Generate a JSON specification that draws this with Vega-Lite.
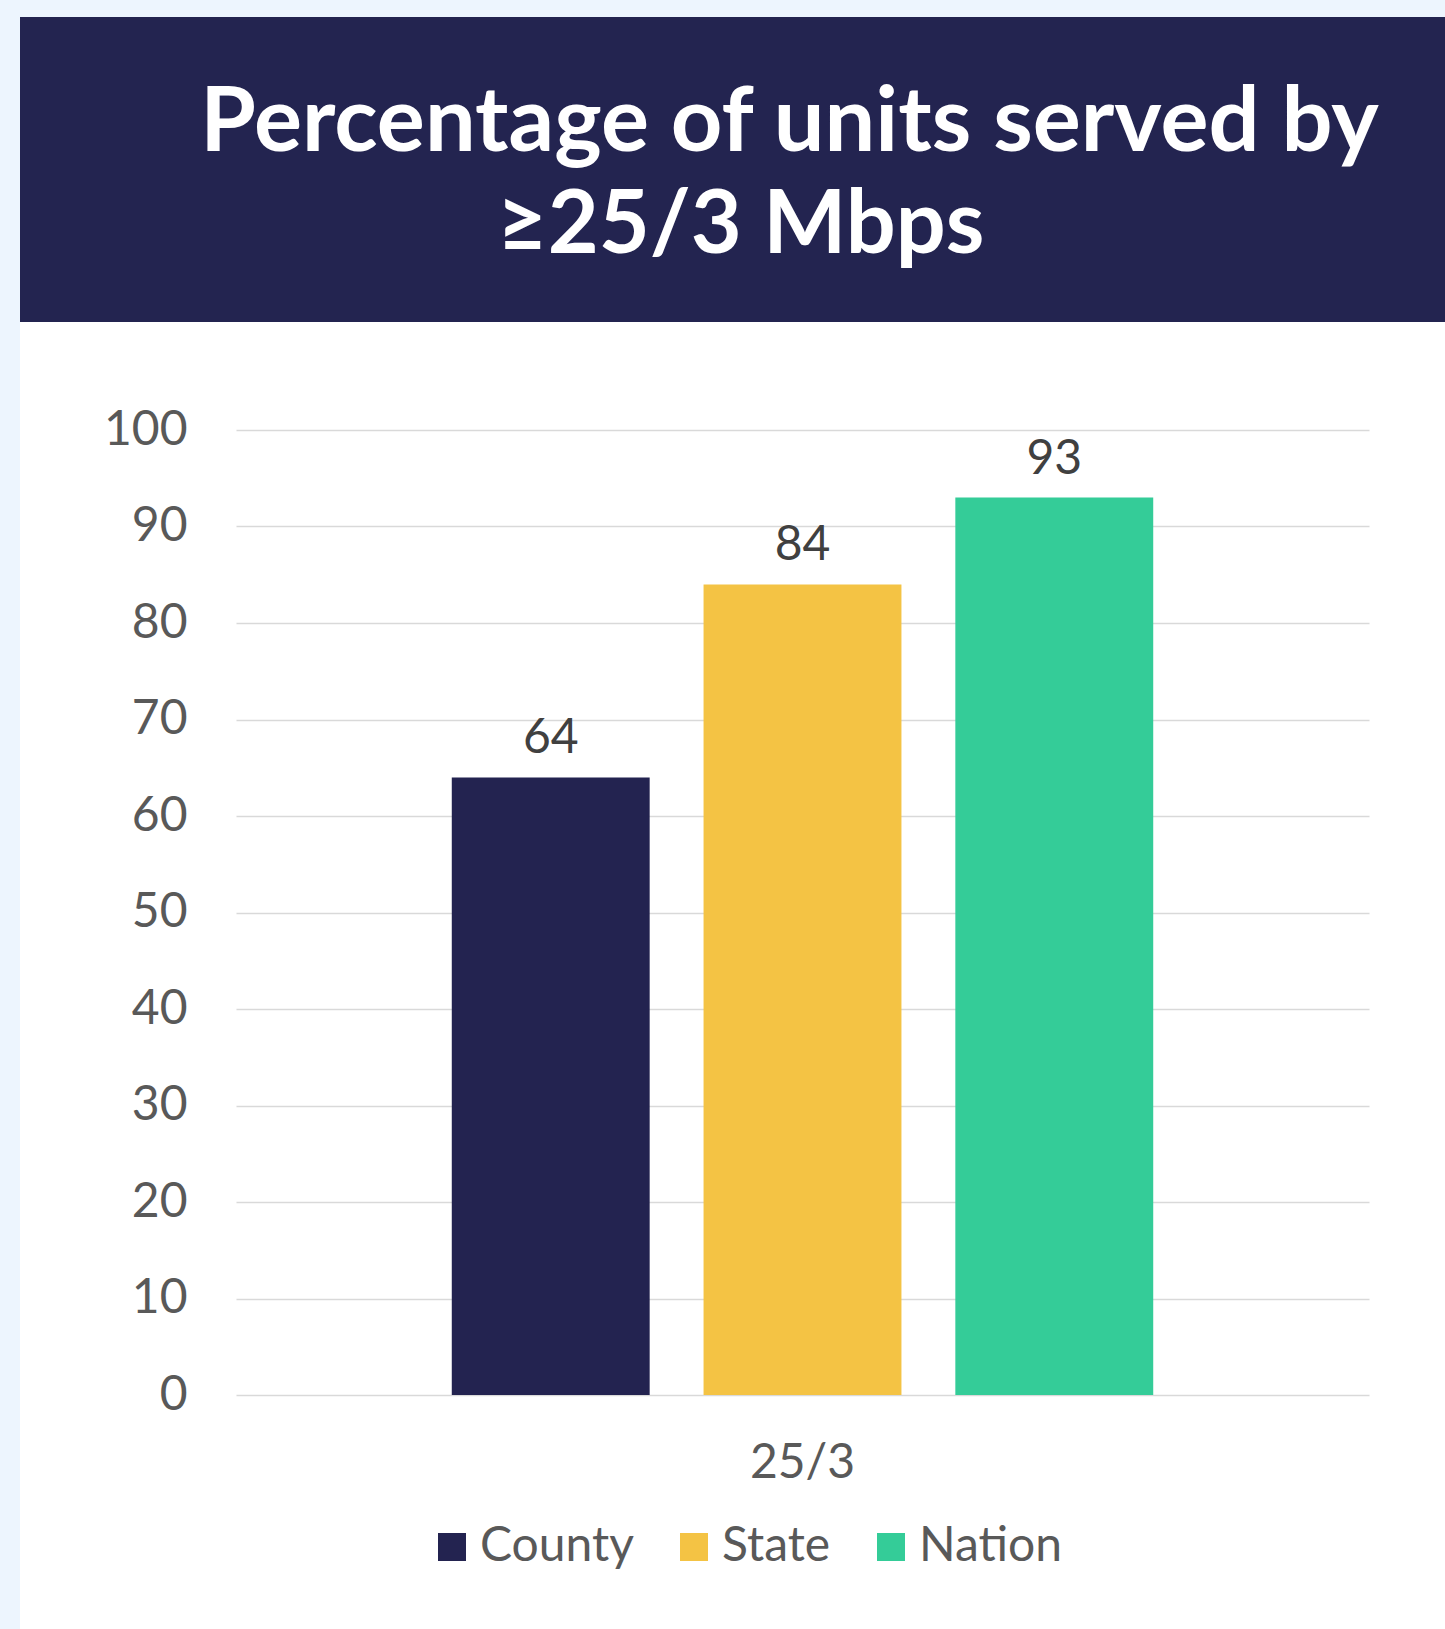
{
  "$schema": "https://vega.github.io/schema/vega-lite/v6.json",
  "padding": 0,
  "background": "#FFFFFF",
  "config": {
    "view": {"stroke": null},
    "font": "Lato",
    "concat": {"spacing": 0}
  },
  "spacing": 0,
  "hconcat": [
    {
      "width": 20,
      "height": 1629,
      "view": {"fill": "#EDF5FE", "stroke": null},
      "data": {"values": [{"part": "strip"}]},
      "mark": {"type": "rect", "color": "#EDF5FE", "opacity": 0},
      "encoding": {}
    },
    {
      "spacing": 0,
      "vconcat": [
        {
          "width": 1425,
          "height": 17,
          "view": {"fill": "#EDF5FE", "stroke": null},
          "data": {"values": [{"part": "strip"}]},
          "mark": {"type": "rect", "color": "#EDF5FE", "opacity": 0},
          "encoding": {}
        },
        {
          "spacing": 84,
          "vconcat": [
            {
              "width": 1425,
              "height": 305,
              "view": {"fill": "#232450", "stroke": null},
              "layer": [
                {
                  "data": {"values": [{"line": "Percentage of units served by"}]},
                  "mark": {
                    "type": "text",
                    "color": "#FFFFFF",
                    "font": "Lato",
                    "fontWeight": "bold",
                    "fontSize": 90,
                    "align": "center",
                    "baseline": "middle",
                    "dx": 57,
                    "dy": -46
                  },
                  "encoding": {"text": {"field": "line"}}
                },
                {
                  "data": {"values": [{"line": "≥25/3 Mbps"}]},
                  "mark": {
                    "type": "text",
                    "color": "#FFFFFF",
                    "font": "Lato",
                    "fontWeight": "bold",
                    "fontSize": 88,
                    "align": "center",
                    "baseline": "middle",
                    "dx": 8,
                    "dy": 57
                  },
                  "encoding": {"text": {"field": "line"}}
                }
              ]
            },
            {
              "spacing": 0,
              "hconcat": [
                {
                  "width": 76,
                  "height": 965,
                  "view": {"stroke": null},
                  "data": {"values": [{"part": "spacer"}]},
                  "mark": {"type": "rect", "color": "#FFFFFF", "opacity": 0},
                  "encoding": {}
                },
                {
                  "width": 1133,
                  "height": 965,
                  "view": {"fill": "#FFFFFF", "stroke": null},
                  "data": {
                    "values": [
                      {"speed": "25/3", "area": "County", "percent": 64},
                      {"speed": "25/3", "area": "State", "percent": 84},
                      {"speed": "25/3", "area": "Nation", "percent": 93}
                    ]
                  },
                  "encoding": {
                    "x": {
                      "field": "speed",
                      "type": "nominal",
                      "scale": {"paddingInner": 0, "paddingOuter": 0.25},
                      "axis": {
                        "title": null,
                        "domain": false,
                        "ticks": false,
                        "tickSize": 0,
                        "labelAngle": 0,
                        "labelFont": "Lato",
                        "labelFontSize": 48,
                        "labelColor": "#595959",
                        "labelPadding": 44,
                        "grid": false
                      }
                    },
                    "xOffset": {
                      "field": "area",
                      "type": "nominal",
                      "sort": ["County", "State", "Nation"],
                      "scale": {"paddingInner": 0.214, "paddingOuter": 0.107}
                    },
                    "y": {
                      "field": "percent",
                      "type": "quantitative",
                      "scale": {"domain": [0, 100], "nice": false},
                      "axis": {
                        "title": null,
                        "values": [0, 10, 20, 30, 40, 50, 60, 70, 80, 90, 100],
                        "domain": false,
                        "ticks": false,
                        "tickSize": 0,
                        "labelFont": "Lato",
                        "labelFontSize": 48,
                        "labelColor": "#595959",
                        "labelPadding": 49,
                        "gridColor": "#D9D9D9",
                        "gridWidth": 1.5,
                        "minExtent": 140,
                        "maxExtent": 140
                      }
                    }
                  },
                  "layer": [
                    {
                      "mark": {"type": "bar"},
                      "encoding": {
                        "color": {
                          "field": "area",
                          "type": "nominal",
                          "scale": {
                            "domain": ["County", "State", "Nation"],
                            "range": ["#232350", "#F4C344", "#34CC98"]
                          },
                          "legend": {
                            "title": null,
                            "orient": "none",
                            "direction": "horizontal",
                            "legendX": 428,
                            "legendY": 1523,
                            "padding": 0,
                            "symbolType": "square",
                            "symbolSize": 784,
                            "symbolStrokeWidth": 0,
                            "labelFont": "Lato",
                            "labelFontSize": 48,
                            "labelColor": "#595959",
                            "labelOffset": 4,
                            "columnPadding": 36
                          }
                        }
                      }
                    },
                    {
                      "mark": {
                        "type": "text",
                        "color": "#404040",
                        "font": "Lato",
                        "fontSize": 48,
                        "baseline": "alphabetic",
                        "dy": -24
                      },
                      "encoding": {"text": {"field": "percent", "type": "quantitative"}}
                    }
                  ]
                }
              ]
            }
          ]
        }
      ]
    }
  ]
}
